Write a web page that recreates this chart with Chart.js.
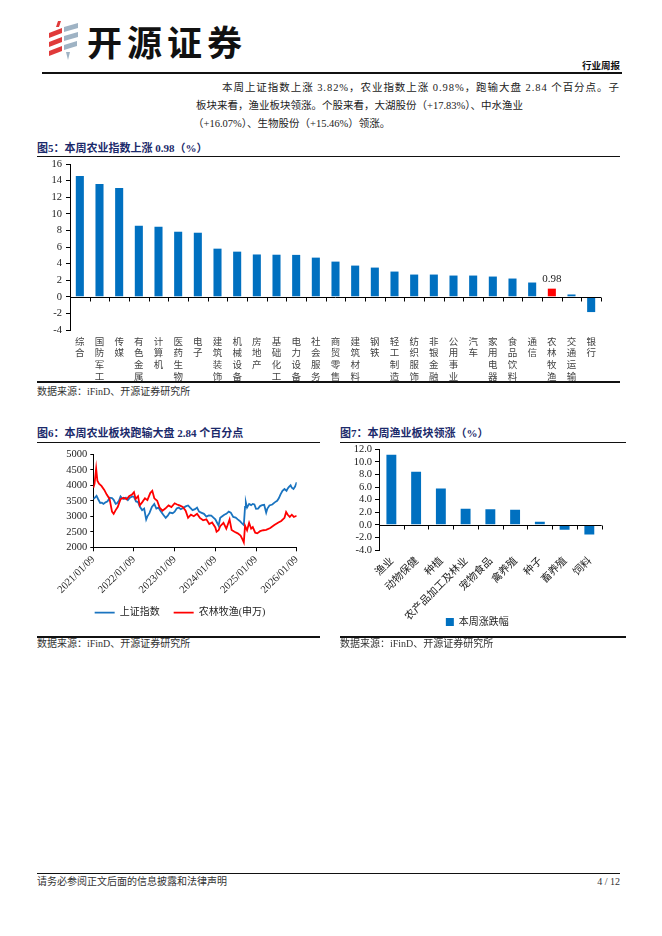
<!DOCTYPE html>
<html><head><meta charset="utf-8">
<script src="https://cdn.jsdelivr.net/npm/chart.js@4.4.1/dist/chart.umd.min.js"></script>
<style>
body{margin:0;width:662px;height:936px;position:relative;background:#fff;overflow:hidden;font-family:"Liberation Serif","Noto Sans CJK SC",serif;color:#222}
.a{position:absolute;white-space:nowrap}
.hl{position:absolute;background:#111}
.title{position:absolute;white-space:nowrap;font-weight:700;color:#1b2a6b;font-size:11px;line-height:14px}
.src{position:absolute;white-space:nowrap;font-size:10px;color:#333;line-height:12px}
.p{position:absolute;white-space:nowrap;font-size:10.5px;line-height:14px;color:#222}
canvas{position:absolute}
</style></head><body>
<svg class="a" style="left:46px;top:21px" width="34" height="40" viewBox="0 0 34 40">
<polygon points="12,0 15,0 13,6 10,6" fill="#e03a3a"/>
<polygon points="3,12 16,7 16,12 3,17" fill="#e03a3a"/>
<polygon points="3,21 16,16 16,21 3,26" fill="#e03a3a"/>
<polygon points="3,30 16,25 16,30 3,35" fill="#e03a3a"/>
<polygon points="18,6 32,2 32,7 18,11" fill="#9fb3c4"/>
<polygon points="18,15 32,11 32,16 18,20" fill="#9fb3c4"/>
<polygon points="18,24 31,20 31,25 18,29" fill="#9fb3c4"/>
<polygon points="20,31 24,31 22,39" fill="#9fb3c4"/>
</svg>
<div class="a" style="left:87px;top:19px;font-family:'Noto Sans CJK SC';font-weight:700;font-size:35px;letter-spacing:5px;color:#111;line-height:44px">开源证券</div>
<div class="a" style="left:582px;top:60px;font-family:'Noto Sans CJK SC';font-weight:700;font-size:9.5px;color:#111;line-height:11px">行业周报</div>
<div class="hl" style="left:42px;top:72px;width:580px;height:1.5px"></div>

<div class="p" style="left:222px;top:81px;letter-spacing:0.95px">本周上证指数上涨 3.82%，农业指数上涨 0.98%，跑输大盘 2.84 个百分点。子</div>
<div class="p" style="left:196px;top:99px">板块来看，渔业板块领涨。个股来看，大湖股份（+17.83%）、中水渔业</div>
<div class="p" style="left:193px;top:117px">（+16.07%）、生物股份（+15.46%）领涨。</div>

<div class="title" style="left:37px;top:141px">图5：本周农业指数上涨 0.98（%）</div>
<div class="hl" style="left:37px;top:155.5px;width:583px;height:1px"></div>
<canvas id="c5" width="600" height="235" style="left:30px;top:150px"></canvas>
<div class="hl" style="left:37px;top:381px;width:583px;height:1.5px"></div>
<div class="src" style="left:37px;top:386px">数据来源：iFinD、开源证券研究所</div>

<div class="title" style="left:37px;top:426px">图6：本周农业板块跑输大盘 2.84 个百分点</div>
<div class="hl" style="left:37px;top:442px;width:283px;height:1px"></div>
<canvas id="c6" width="290" height="190" style="left:30px;top:445px"></canvas>
<div class="hl" style="left:37px;top:636px;width:283px;height:1.5px"></div>
<div class="src" style="left:37px;top:638px">数据来源：iFinD、开源证券研究所</div>

<div class="title" style="left:340px;top:426px">图7：本周渔业板块领涨（%）</div>
<div class="hl" style="left:340px;top:442px;width:286px;height:1px"></div>
<canvas id="c7" width="300" height="200" style="left:330px;top:440px"></canvas>
<div class="hl" style="left:340px;top:636px;width:286px;height:1.5px"></div>
<div class="src" style="left:340px;top:638px">数据来源：iFinD、开源证券研究所</div>

<div class="hl" style="left:37px;top:873px;width:583px;height:1px"></div>
<div class="src" style="left:37px;top:876px">请务必参阅正文后面的信息披露和法律声明</div>
<div class="src" style="left:590px;top:876px;width:30px;text-align:right">4 / 12</div>

<script>
// ---- Figure 5 data ----
const industryLabels = ['综合','国防军工','传媒','有色金属','计算机','医药生物','电子','建筑装饰','机械设备','房地产','基础化工','电力设备','社会服务','商贸零售','建筑材料','钢铁','轻工制造','纺织服饰','非银金融','公用事业','汽车','家用电器','食品饮料','通信','农林牧渔','交通运输','银行'];
const industryValues = [14.56,13.60,13.12,8.56,8.44,7.84,7.72,5.80,5.44,5.10,5.07,5.05,4.72,4.24,3.76,3.52,3.04,2.68,2.68,2.56,2.56,2.44,2.20,1.72,0.98,0.28,-1.84];
const highlightLabel = '农林牧渔';
const fig5Ticks = [-4,16,2];

// ---- Figure 6 data (decimal year, index level) ----
const sseDates = [2021.00,2021.04,2021.08,2021.12,2021.17,2021.21,2021.25,2021.30,2021.35,2021.40,2021.46,2021.50,2021.55,2021.58,2021.63,2021.67,2021.71,2021.75,2021.80,2021.85,2021.90,2021.96,2022.00,2022.05,2022.10,2022.15,2022.20,2022.25,2022.30,2022.33,2022.38,2022.44,2022.50,2022.55,2022.60,2022.65,2022.72,2022.78,2022.83,2022.88,2022.95,2023.00,2023.05,2023.10,2023.15,2023.20,2023.27,2023.33,2023.38,2023.44,2023.50,2023.55,2023.60,2023.65,2023.72,2023.78,2023.84,2023.90,2023.96,2024.00,2024.04,2024.08,2024.12,2024.17,2024.22,2024.27,2024.33,2024.38,2024.44,2024.50,2024.55,2024.60,2024.65,2024.70,2024.73,2024.75,2024.78,2024.83,2024.88,2024.92,2024.96,2025.00,2025.05,2025.10,2025.15,2025.20,2025.25,2025.28,2025.33,2025.40,2025.46,2025.52,2025.56,2025.60,2025.65,2025.70,2025.75,2025.78,2025.81,2025.85,2025.88,2025.92,2025.96,2026.00];
const sseValues = [3560,3600,3660,3550,3430,3440,3400,3450,3480,3600,3590,3530,3400,3420,3500,3640,3580,3560,3600,3520,3600,3640,3630,3480,3460,3300,3200,3250,2900,3000,3100,3300,3400,3250,3280,3180,3050,2950,3020,3120,3100,3150,3250,3280,3230,3260,3320,3350,3280,3200,3230,3280,3150,3120,3080,2990,3030,3020,2950,2900,2800,2700,2950,3000,3050,3080,3150,3120,2980,2960,2900,2850,2780,2720,3300,3450,3280,3400,3360,3400,3380,3240,3250,3330,3360,3370,3120,3250,3350,3380,3450,3500,3580,3700,3820,3880,3820,3900,3950,4000,3920,3880,3960,4100];
const agriDates = [2021.00,2021.03,2021.07,2021.10,2021.14,2021.20,2021.27,2021.33,2021.40,2021.46,2021.50,2021.55,2021.60,2021.67,2021.75,2021.82,2021.88,2021.95,2022.00,2022.04,2022.10,2022.14,2022.20,2022.27,2022.33,2022.40,2022.45,2022.50,2022.57,2022.63,2022.70,2022.77,2022.85,2022.92,2023.00,2023.06,2023.12,2023.20,2023.27,2023.33,2023.40,2023.47,2023.55,2023.62,2023.70,2023.78,2023.85,2023.92,2024.00,2024.03,2024.08,2024.12,2024.20,2024.27,2024.35,2024.40,2024.47,2024.55,2024.62,2024.67,2024.70,2024.73,2024.78,2024.83,2024.88,2024.92,2024.98,2025.03,2025.10,2025.18,2025.25,2025.35,2025.45,2025.55,2025.62,2025.70,2025.74,2025.78,2025.83,2025.88,2025.93,2025.97,2026.00];
const agriValues = [3920,4050,4540,4150,4050,3980,3850,3700,3560,3150,3080,3200,3300,3550,3600,3550,3650,3700,3780,3560,3650,3350,3450,3580,3520,3750,3820,3580,3500,3280,3180,3250,3350,3300,3420,3380,3350,3300,3180,2950,3050,3000,3080,2950,2870,2900,2750,2800,2640,2500,2550,2680,2790,2600,2900,2560,2500,2450,2380,2250,2160,2700,2550,2790,2600,2650,2470,2450,2520,2550,2560,2620,2720,2800,2850,2950,3140,3050,2980,3050,2980,3000,3020];
const fig6YearTicks = [2021,2026];
const fig6Y = [2000,5000,500];
const seriesNames = ['上证指数','农林牧渔(申万)'];

// ---- Figure 7 data ----
const subLabels = ['渔业','动物保健','种植','农产品加工及林业','宠物食品','禽养殖','种子','畜养殖','饲料'];
const subValues = [11.13,8.42,5.77,2.54,2.49,2.38,0.48,-0.79,-1.54];
const fig7Y = [-4,12,2];
const fig7Series = '本周涨跌幅';

const BLUE = '#0070C0', RED = '#FF0000';
const NUMF = "'Liberation Serif'";
const CJKF = "'Liberation Serif','Noto Sans CJK SC'";
Chart.defaults.font.family = CJKF;
Chart.defaults.color = '#222';
Chart.defaults.animation = false;

const noClip = s => { s._computeLabelArea = () => undefined; };

const zeroAxis = {
  id: 'zeroAxis',
  afterDatasetsDraw(chart, args, opts) {
    const {ctx, chartArea, scales} = chart;
    const y0 = Math.round(scales.y.getPixelForValue(0)) + 0.5;
    const n = chart.data.labels.length;
    ctx.save();
    ctx.strokeStyle = '#000'; ctx.lineWidth = 1;
    ctx.beginPath();
    ctx.moveTo(chartArea.left, y0); ctx.lineTo(chartArea.right, y0);
    for (let i = 0; i <= n; i++) {
      const px = Math.round(chartArea.left + (chartArea.right - chartArea.left) * i / n) + 0.5;
      ctx.moveTo(px, y0); ctx.lineTo(px, y0 + (opts.len || 4));
    }
    ctx.stroke();
    ctx.restore();
  }
};
const valueLabel = {
  id: 'valueLabel',
  afterDatasetsDraw(chart) {
    const idx = chart.data.labels.findIndex(l => l.join('') === highlightLabel);
    if (idx < 0) return;
    const el = chart.getDatasetMeta(0).data[idx];
    const ctx = chart.ctx;
    ctx.save();
    ctx.font = "11px " + NUMF; ctx.fillStyle = '#222';
    ctx.textAlign = 'center'; ctx.textBaseline = 'bottom';
    ctx.fillText(industryValues[idx].toFixed(2), el.x, el.y - 4);
    ctx.restore();
  }
};

// Figure 5
new Chart(document.getElementById('c5'), {
  type: 'bar',
  data: {
    labels: industryLabels.map(s => Array.from(s)),
    datasets: [{
      data: industryValues,
      backgroundColor: industryLabels.map(l => l === highlightLabel ? RED : BLUE),
      barPercentage: 0.41, categoryPercentage: 1
    }]
  },
  options: {
    responsive: false,
    layout: {padding: {top: 14, right: 29, left: 0, bottom: 0}},
    plugins: {legend: {display: false}, tooltip: {enabled: false}, zeroAxis: {len: 4}},
    scales: {
      x: {
        grid: {display: false, drawTicks: false}, border: {display: false},
        ticks: {autoSkip: false, maxRotation: 0, minRotation: 0, padding: 5, color: '#444',
          font: {size: 9.5, lineHeight: 1.25, family: "'Noto Sans CJK SC'"}},
        afterFit(s) { s.height = 55; noClip(s); }
      },
      y: {
        min: fig5Ticks[0], max: fig5Ticks[1],
        ticks: {stepSize: fig5Ticks[2], autoSkip: false, padding: 4, color: '#222', font: {size: 10.5, family: NUMF}},
        grid: {drawOnChartArea: false, drawTicks: true, tickLength: 4, color: '#000'},
        border: {color: '#000'},
        afterFit(s) { s.width = 40; noClip(s); }
      }
    }
  },
  plugins: [zeroAxis, valueLabel]
});

// Figure 6
new Chart(document.getElementById('c6'), {
  type: 'line',
  data: {
    datasets: [
      {label: seriesNames[0], data: sseDates.map((d, i) => ({x: d, y: sseValues[i]})),
        borderColor: '#1a74c0', backgroundColor: '#1a74c0', borderWidth: 1.8, pointRadius: 0, order: 1, tension: 0},
      {label: seriesNames[1], data: agriDates.map((d, i) => ({x: d, y: agriValues[i]})),
        borderColor: RED, backgroundColor: RED, borderWidth: 1.8, pointRadius: 0, order: 0, tension: 0}
    ]
  },
  options: {
    responsive: false,
    layout: {padding: {top: 9.3, right: 23.3, left: 33.3, bottom: 7.3}},
    plugins: {
      tooltip: {enabled: false},
      legend: {position: 'bottom',
        labels: {usePointStyle: true, pointStyle: 'line', pointStyleWidth: 20, padding: 14, color: '#222',
          font: {size: 10, family: CJKF}, sort: (a, b) => a.datasetIndex - b.datasetIndex}}
    },
    scales: {
      x: {
        type: 'linear', min: fig6YearTicks[0], max: fig6YearTicks[1],
        ticks: {stepSize: 1, autoSkip: false, minRotation: 45, maxRotation: 45, padding: 2, color: '#222',
          font: {size: 10.5, family: NUMF}, callback: v => v + '/01/09'},
        grid: {drawOnChartArea: false, drawTicks: true, tickLength: 4, color: '#000'},
        border: {color: '#000'},
        afterFit(s) { s.height = 46.4; noClip(s); }
      },
      y: {
        min: fig6Y[0], max: fig6Y[1],
        ticks: {stepSize: fig6Y[2], autoSkip: false, padding: 3, color: '#222', font: {size: 10.5, family: NUMF},
          callback: v => String(v)},
        grid: {drawOnChartArea: false, drawTicks: true, tickLength: 3, color: '#000'},
        border: {color: '#000'},
        afterFit(s) { s.width = 30; noClip(s); }
      }
    }
  }
});

// Figure 7
new Chart(document.getElementById('c7'), {
  type: 'bar',
  data: {
    labels: subLabels,
    datasets: [{label: fig7Series, data: subValues, backgroundColor: BLUE,
      barPercentage: 0.4, categoryPercentage: 1}]
  },
  options: {
    responsive: false,
    layout: {padding: {top: 9.3, right: 28.3, left: 23, bottom: 3}},
    plugins: {
      tooltip: {enabled: false}, zeroAxis: {len: 4},
      legend: {position: 'bottom',
        labels: {boxWidth: 8, boxHeight: 8, padding: 5, color: '#222', font: {size: 10, family: CJKF}}}
    },
    scales: {
      x: {
        grid: {display: false, drawTicks: false}, border: {display: false},
        ticks: {autoSkip: false, minRotation: 45, maxRotation: 45, padding: 4, color: '#222',
          font: {size: 10.5, family: "'Noto Sans CJK SC'"}},
        afterFit(s) { s.height = 62; noClip(s); }
      },
      y: {
        min: fig7Y[0], max: fig7Y[1],
        ticks: {stepSize: fig7Y[2], autoSkip: false, padding: 3, color: '#222', font: {size: 10.5, family: NUMF},
          callback: v => Number(v).toFixed(1)},
        grid: {drawOnChartArea: false, drawTicks: true, tickLength: 4, color: '#000'},
        border: {color: '#000'},
        afterFit(s) { s.width = 26; noClip(s); }
      }
    }
  },
  plugins: [zeroAxis]
});
</script>
</body></html>
